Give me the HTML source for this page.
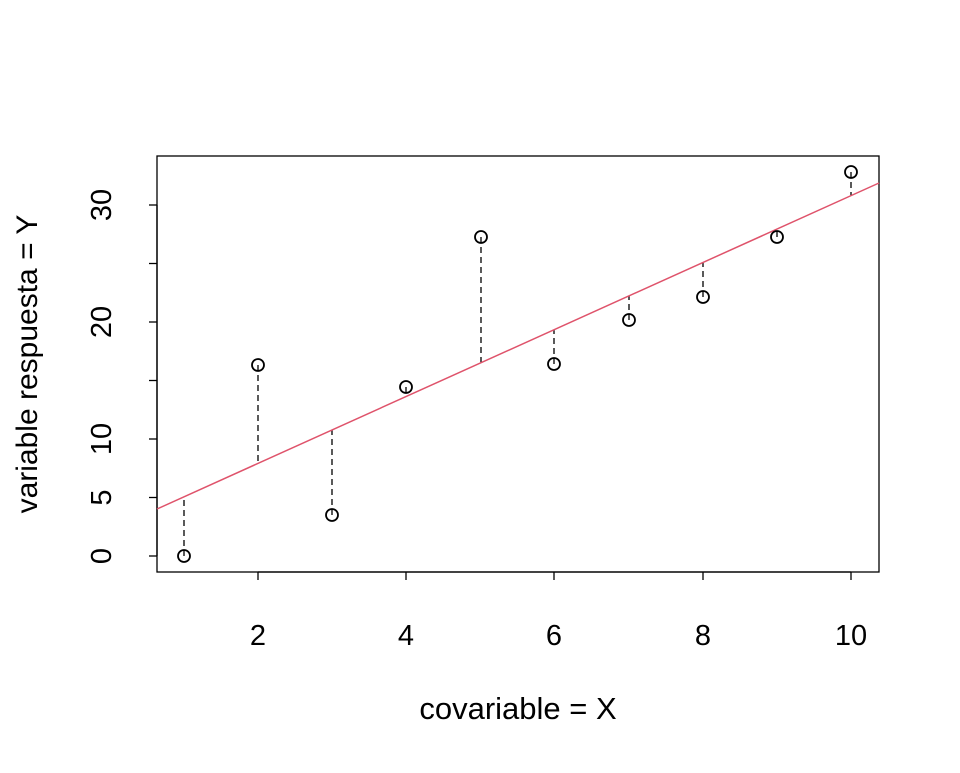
<!DOCTYPE html>
<html><head><style>body{margin:0;background:#fff}</style></head><body>
<svg width="960" height="768" xmlns="http://www.w3.org/2000/svg" font-family="Liberation Sans, sans-serif">
<rect width="960" height="768" fill="#fff"/>
<rect x="157" y="156" width="722" height="416" fill="none" stroke="#000" stroke-width="1.3"/>
<g stroke="#000" stroke-width="1.3">
<line x1="258" y1="572" x2="851" y2="572"/>
<line x1="258" y1="572" x2="258" y2="580"/><line x1="406" y1="572" x2="406" y2="580"/><line x1="554" y1="572" x2="554" y2="580"/><line x1="703" y1="572" x2="703" y2="580"/><line x1="851" y1="572" x2="851" y2="580"/>
<line x1="157" y1="556" x2="157" y2="205"/>
<line x1="149" y1="556" x2="157" y2="556"/><line x1="149" y1="497.5" x2="157" y2="497.5"/><line x1="149" y1="439" x2="157" y2="439"/><line x1="149" y1="380.5" x2="157" y2="380.5"/><line x1="149" y1="322" x2="157" y2="322"/><line x1="149" y1="263.5" x2="157" y2="263.5"/><line x1="149" y1="205" x2="157" y2="205"/>
</g>
<g font-size="29" text-anchor="middle">
<text x="258" y="645">2</text><text x="406" y="645">4</text><text x="554" y="645">6</text><text x="703" y="645">8</text><text x="851" y="645">10</text>
<text transform="translate(111,556) rotate(-90)">0</text>
<text transform="translate(111,497.5) rotate(-90)">5</text>
<text transform="translate(111,439) rotate(-90)">10</text>
<text transform="translate(111,322) rotate(-90)">20</text>
<text transform="translate(111,205) rotate(-90)">30</text>
<text x="518" y="719" font-size="31">covariable = X</text>
<text transform="translate(37,364) rotate(-90)" font-size="30">variable respuesta = Y</text>
</g>
<g stroke="#000" stroke-width="1.3" stroke-dasharray="6,4" fill="none">
<line x1="184" y1="556" x2="184" y2="497"/>
<line x1="258" y1="365" x2="258" y2="463"/>
<line x1="332" y1="515" x2="332" y2="430"/>
<line x1="406" y1="387" x2="406" y2="396"/>
<line x1="481" y1="237" x2="481" y2="363"/>
<line x1="554" y1="364" x2="554" y2="330"/>
<line x1="629" y1="320" x2="629" y2="296"/>
<line x1="703" y1="297" x2="703" y2="263"/>
<line x1="777" y1="237" x2="777" y2="229"/>
<line x1="851" y1="172" x2="851" y2="196"/>
</g>
<line x1="157" y1="509" x2="879" y2="183" stroke="#DF536B" stroke-width="1.5"/>
<g stroke="#000" stroke-width="1.8" fill="none">
<circle cx="184" cy="556" r="6"/><circle cx="258" cy="365" r="6"/><circle cx="332" cy="515" r="6"/><circle cx="406" cy="387" r="6"/><circle cx="481" cy="237" r="6"/><circle cx="554" cy="364" r="6"/><circle cx="629" cy="320" r="6"/><circle cx="703" cy="297" r="6"/><circle cx="777" cy="237" r="6"/><circle cx="851" cy="172" r="6"/>
</g>
</svg>
</body></html>
